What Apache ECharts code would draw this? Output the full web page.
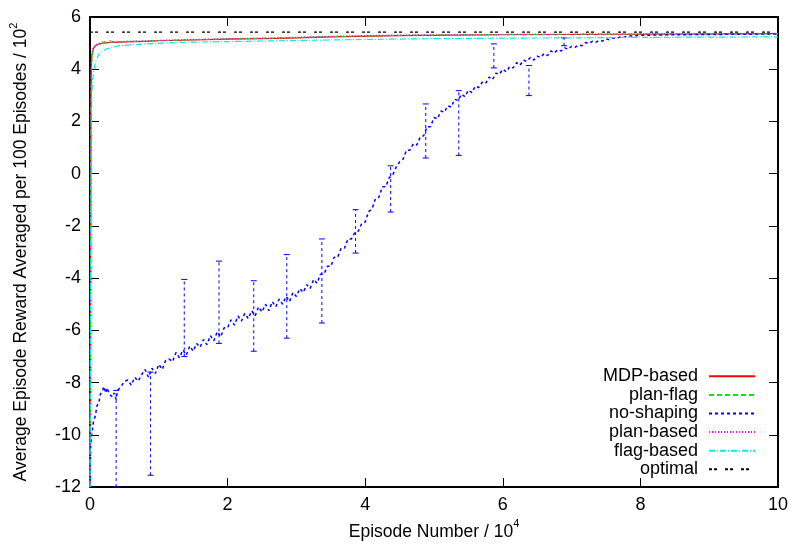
<!DOCTYPE html>
<html>
<head>
<meta charset="utf-8">
<script src="https://cdn.jsdelivr.net/npm/echarts@6/dist/echarts.min.js"></script>
<style>
  html, body { margin: 0; padding: 0; background: #fff; }
  #chart { width: 793px; height: 547px; }
</style>
</head>
<body>
<div id="chart"></div>
<script>
// episodes in units of 10^4, reward in units of 10^2
var xTicks = [0, 2, 4, 6, 8, 10];
var yTicks = [-12, -10, -8, -6, -4, -2, 0, 2, 4, 6];

var mdpX = [0, 0.005, 0.01, 0.015, 0.02, 0.03, 0.05, 0.08, 0.12, 0.2, 0.3, 0.5, 0.8, 1.0, 1.5, 2.0, 2.75, 3.5, 4.5, 6.0, 8.0, 10];
var mdpY = [-12, -7, -1, 3, 4.2, 4.6, 4.8, 4.9, 4.96, 5.0, 5.03, 5.05, 5.07, 5.09, 5.12, 5.15, 5.18, 5.24, 5.29, 5.32, 5.34, 5.36];

var planFlagX = [0, 0.005, 0.01, 0.015, 0.02, 0.03, 0.05, 0.08, 0.12, 0.2, 0.3, 0.5, 0.8, 1.0, 1.5, 2.0, 2.75, 3.5, 4.5, 6.0, 8.0, 10];
var planFlagY = [-12, -8, -2, 2.5, 4.0, 4.5, 4.75, 4.88, 4.95, 5.01, 5.04, 5.06, 5.08, 5.1, 5.13, 5.16, 5.2, 5.25, 5.3, 5.33, 5.35, 5.36];

var noShapingX = [0, 0.01, 0.03, 0.05, 0.08, 0.10, 0.13, 0.15, 0.18, 0.20, 0.23, 0.25, 0.28, 0.30, 0.33, 0.35, 0.38, 0.40, 0.45,
  0.50, 0.55, 0.60, 0.65, 0.70, 0.75, 0.80, 0.85, 0.90, 0.95, 1.00, 1.05, 1.10, 1.15, 1.20, 1.25, 1.30, 1.35, 1.40, 1.45,
  1.50, 1.55, 1.60, 1.65, 1.70, 1.75, 1.80, 1.85, 1.90, 1.95, 2.00, 2.05, 2.10, 2.15, 2.20, 2.25, 2.30, 2.35, 2.40, 2.45,
  2.50, 2.55, 2.60, 2.65, 2.70, 2.75, 2.80, 2.85, 2.90, 2.95, 3.00, 3.05, 3.10, 3.15, 3.20, 3.25, 3.30, 3.35, 3.40, 3.45,
  3.50, 3.55, 3.60, 3.65, 3.70, 3.75, 3.80, 3.85, 3.90, 3.95, 4.00, 4.05, 4.10, 4.15, 4.20, 4.25, 4.30, 4.35, 4.40, 4.45,
  4.50, 4.55, 4.60, 4.65, 4.70, 4.75, 4.80, 4.85, 4.90, 4.95, 5.00, 5.05, 5.10, 5.15, 5.20, 5.25, 5.30, 5.35, 5.40, 5.45,
  5.50, 5.55, 5.60, 5.65, 5.70, 5.75, 5.80, 5.85, 5.90, 5.95, 6.00, 6.05, 6.10, 6.15, 6.20, 6.25, 6.30, 6.35, 6.40, 6.45,
  6.50, 6.55, 6.60, 6.65, 6.70, 6.75, 6.80, 6.85, 6.90, 6.95, 7.00, 7.05, 7.10, 7.15, 7.20, 7.25, 7.30, 7.35, 7.40, 7.45,
  7.50, 7.55, 7.60, 7.65, 7.70, 7.75, 7.80, 7.90, 8.00, 8.5, 9.0, 9.5, 10];
var noShapingY = [-11.9, -10.4, -9.9, -9.5, -9.25, -8.9, -8.75, -8.45, -8.35, -8.15, -8.4, -8.2, -8.45, -8.4, -8.55, -8.4, -8.65, -8.3, -8.15,
  -7.95, -7.9, -8.1, -7.8, -7.95, -7.7, -7.5, -7.8, -7.45, -7.65, -7.3, -7.5, -7.15, -7.1, -7.2, -6.85, -7.05, -6.75, -6.95, -6.6,
  -6.8, -6.5, -6.65, -6.35, -6.55, -6.2, -6.4, -6.05, -6.25, -5.9, -5.9, -5.6, -5.8, -5.45, -5.65, -5.35, -5.55, -5.25, -5.45, -5.1,
  -5.3, -5.0, -5.25, -4.9, -5.1, -4.8, -5.0, -4.7, -4.9, -4.55, -4.7, -4.4, -4.55, -4.25, -4.4, -4.05, -4.2, -3.85, -3.85, -3.55,
  -3.55, -3.2, -3.2, -2.85, -2.85, -2.5, -2.5, -2.25, -2.2, -1.9, -1.85, -1.45, -1.35, -0.95, -0.9, -0.5, -0.5, -0.15, -0.05, 0.25,
  0.45, 0.55, 0.9, 0.9, 1.15, 1.1, 1.4, 1.45, 1.8, 1.8, 2.15, 2.1, 2.4, 2.35, 2.6, 2.55, 2.85, 2.8, 3.05, 2.95,
  3.2, 3.1, 3.35, 3.3, 3.5, 3.45, 3.7, 3.6, 3.85, 3.8, 4.0, 3.9, 4.1, 4.05, 4.25, 4.15, 4.35, 4.3, 4.45, 4.35,
  4.5, 4.45, 4.6, 4.52, 4.7, 4.62, 4.75, 4.7, 4.82, 4.76, 4.88, 4.84, 4.93, 4.9, 5.02, 4.98, 5.07, 5.03, 5.11, 5.08,
  5.16, 5.13, 5.2, 5.18, 5.23, 5.21, 5.26, 5.28, 5.3, 5.32, 5.33, 5.34, 5.35];

// error bars on no-shaping
var errX = [0.38, 0.88, 1.37, 1.875, 2.38, 2.86, 3.37, 3.86, 4.37, 4.88, 5.36, 5.87, 6.38, 6.89];
var errLow = [-12, -11.55, -7.0, -6.5, -6.8, -6.3, -5.72, -3.04, -1.47, 0.6, 0.7, 4.05, 2.99, 4.9];
var errHigh = [-8.3, -7.6, -4.05, -3.35, -4.1, -3.1, -2.5, -1.38, 0.3, 2.67, 3.18, 4.97, 4.14, 5.2];

var planBasedX = [0, 0.005, 0.01, 0.015, 0.02, 0.03, 0.05, 0.08, 0.12, 0.2, 0.25, 0.3, 0.35, 0.5, 0.8, 1.0, 1.5, 2.0, 2.75, 3.5, 4.5, 6.0, 8.0, 10];
var planBasedY = [-12, -6, 0, 3.5, 4.4, 4.7, 4.85, 4.93, 4.98, 5.08, 5.02, 5.1, 5.03, 5.06, 5.09, 5.1, 5.14, 5.17, 5.2, 5.26, 5.31, 5.33, 5.35, 5.37];

var flagBasedX = [0, 0.01, 0.02, 0.03, 0.05, 0.08, 0.13, 0.23, 0.42, 0.81, 1.3, 2.75, 4.0, 5.0, 6.0, 7.0, 8.0, 9.0, 10];
var flagBasedY = [-12, -4, 2.5, 3.3, 3.9, 4.27, 4.58, 4.77, 4.9, 4.97, 5.03, 5.09, 5.14, 5.17, 5.19, 5.2, 5.22, 5.23, 5.24];

var optimalX = [0, 10];
var optimalY = [5.42, 5.42];

function pairs(xs, ys) {
    var out = [];
    for (var i = 0; i < xs.length; i++) {
        out.push([xs[i], ys[i]]);
    }
    return out;
}

var fontFam = '"Liberation Sans", Arial, sans-serif';

function lineSeries(name, xs, ys, color, dash, width) {
    return {
        name: name,
        type: 'line',
        data: pairs(xs, ys),
        symbol: 'none',
        showSymbol: false,
        lineStyle: { color: color, width: width || 1.2, type: dash },
        itemStyle: { color: color },
        silent: true
    };
}

var axisLineStyle = { show: true, onZero: false, lineStyle: { color: '#000', width: 2 } };
var tickStyle = { inside: true, length: 9, lineStyle: { color: '#000', width: 1 } };
var nameRich = {
    n: { fontFamily: fontFam, fontSize: 17.5, color: '#000', lineHeight: 22, verticalAlign: 'bottom' },
    sup: { fontFamily: fontFam, fontSize: 11, color: '#000', lineHeight: 22, verticalAlign: 'top' }
};

var chart = echarts.init(document.getElementById('chart'));
var option = {
    animation: false,
    backgroundColor: '#fff',
    textStyle: { fontFamily: fontFam },
    grid: { left: 89, right: 15, top: 17, bottom: 60, show: false },
    legend: {
        data: ['MDP-based', 'plan-flag', 'no-shaping', 'plan-based', 'flag-based', 'optimal'],
        orient: 'vertical',
        align: 'right',
        right: 37,
        top: 367,
        itemWidth: 46,
        itemHeight: 10,
        itemGap: 0,
        padding: 0,
        selectedMode: false,
        itemStyle: { opacity: 0 },
        textStyle: { fontFamily: fontFam, fontSize: 18, color: '#000', lineHeight: 18.6, padding: [0, 6, 0, 0] }
    },
    xAxis: [{
        type: 'value',
        min: 0,
        max: 10,
        interval: 2,
        name: '{n|Episode Number / 10}{sup|4}',
        nameLocation: 'middle',
        nameGap: 19,
        nameTextStyle: { rich: nameRich },
        axisLine: axisLineStyle,
        axisTick: tickStyle,
        axisLabel: { color: '#000', fontSize: 18, fontFamily: fontFam, margin: 9 },
        splitLine: { show: false }
    }, {
        type: 'value',
        position: 'top',
        min: 0,
        max: 10,
        interval: 2,
        axisLine: axisLineStyle,
        axisTick: tickStyle,
        axisLabel: { show: false },
        splitLine: { show: false }
    }],
    yAxis: [{
        type: 'value',
        min: -12,
        max: 6,
        interval: 2,
        name: '{n|Average Episode Reward Averaged per 100 Episodes / 10}{sup|2}',
        nameLocation: 'middle',
        nameGap: 60,
        nameTextStyle: { rich: nameRich },
        axisLine: axisLineStyle,
        axisTick: tickStyle,
        axisLabel: { color: '#000', fontSize: 18, fontFamily: fontFam, margin: 9 },
        splitLine: { show: false }
    }, {
        type: 'value',
        position: 'right',
        min: -12,
        max: 6,
        interval: 2,
        axisLine: axisLineStyle,
        axisTick: tickStyle,
        axisLabel: { show: false },
        splitLine: { show: false }
    }],
    series: [
        lineSeries('MDP-based', mdpX, mdpY, '#ff0000', 'solid', 1.2),
        lineSeries('plan-flag', planFlagX, planFlagY, '#00ee00', [5, 3], 1.2),
        lineSeries('no-shaping', noShapingX, noShapingY, '#0000ff', [3, 3], 1.5),
        {
            name: 'no-shaping-err',
            type: 'custom',
            silent: true,
            data: errX.map(function (x, i) { return [x, errLow[i], errHigh[i]]; }),
            encode: { x: 0, y: [1, 2] },
            renderItem: function (params, api) {
                var lo = api.coord([api.value(0), api.value(1)]);
                var hi = api.coord([api.value(0), api.value(2)]);
                var w = 3;
                var st = { stroke: '#0000ff', lineWidth: 1, lineDash: [3, 3], fill: null };
                return {
                    type: 'group',
                    children: [
                        { type: 'line', shape: { x1: lo[0], y1: lo[1], x2: hi[0], y2: hi[1] }, style: st },
                        { type: 'line', shape: { x1: lo[0] - w, y1: lo[1], x2: lo[0] + w, y2: lo[1] }, style: { stroke: '#0000ff', lineWidth: 1 } },
                        { type: 'line', shape: { x1: hi[0] - w, y1: hi[1], x2: hi[0] + w, y2: hi[1] }, style: { stroke: '#0000ff', lineWidth: 1 } }
                    ]
                };
            }
        },
        lineSeries('plan-based', planBasedX, planBasedY, '#ff00ff', [1, 2], 1.2),
        lineSeries('flag-based', flagBasedX, flagBasedY, '#00eeee', [6, 2, 1, 2], 1.2),
        lineSeries('optimal', optimalX, optimalY, '#000000', [3, 2, 3, 8], 1.2)
    ]
};
chart.setOption(option);
window.addEventListener('resize', chart.resize);
</script>
</body>
</html>
